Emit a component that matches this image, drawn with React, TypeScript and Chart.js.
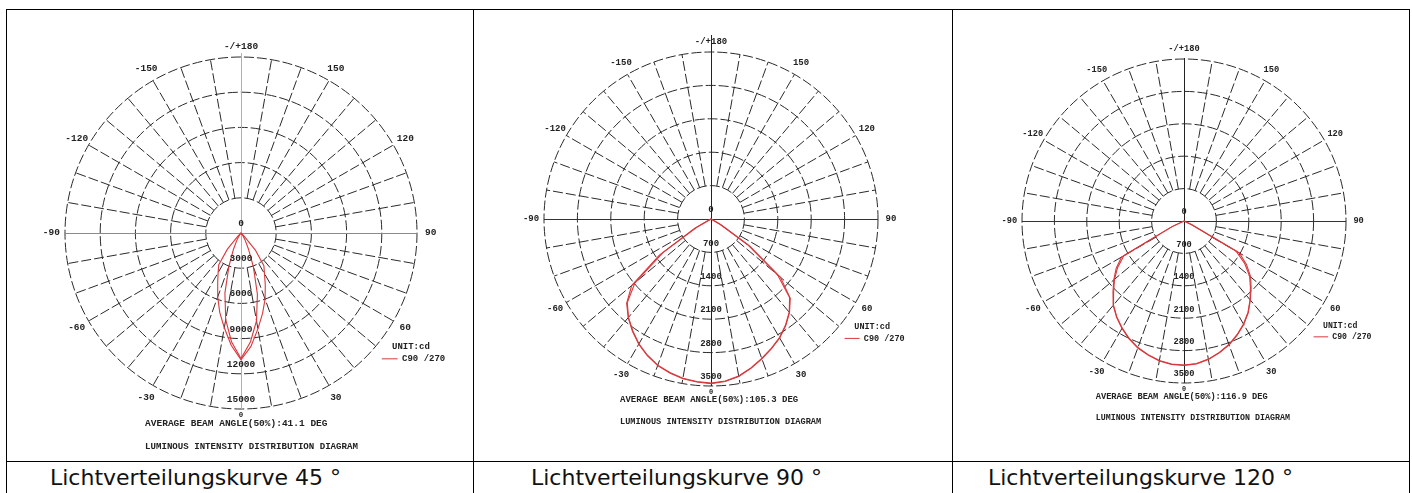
import React, { useEffect, useRef } from 'react';
import { Chart, registerables } from 'chart.js';

Chart.register(...registerables);

// polar angles (degrees) of each half, 0 = straight down, 180 = straight up
const ANGLES = [0, 5, 10, 15, 20, 25, 30, 35, 40, 45, 50, 55, 60, 65, 70, 75, 80, 85, 90,
  95, 100, 105, 110, 115, 120, 125, 130, 135, 140, 145, 150, 155, 160, 165, 170, 175, 180];

// angle tick labels around the rim
const ANGLE_TICKS = [180, 150, 120, 90, 60, 30, 0, -30, -60, -90, -120, -150];
const ANGLE_TEXT = ['-/+180', '150', '120', '90', '60', '30', '0', '-30', '-60', '-90', '-120', '-150'];

// ---- Chart 1 : 45° (cd) ----
const C1_TICKS = [0, 3000, 6000, 9000, 12000, 15000];
const C1_A_RIGHT = [10800, 9700, 8300, 7100, 6000, 4900, 4000, 3400, 1900, 400,
  0, 0, 0, 0, 0, 0, 0, 0, 0, 0,
  0, 0, 0, 0, 0, 0, 0, 0, 0, 0,
  0, 0, 0, 0, 0, 0, 0];
const C1_A_LEFT = [10800, 9600, 8200, 7000, 5800, 4700, 3900, 3300, 1800, 400,
  0, 0, 0, 0, 0, 0, 0, 0, 0, 0,
  0, 0, 0, 0, 0, 0, 0, 0, 0, 0,
  0, 0, 0, 0, 0, 0, 0];
const C1_B_RIGHT = [10700, 9300, 7600, 5400, 3100, 1500, 700, 300, 0, 0,
  0, 0, 0, 0, 0, 0, 0, 0, 0, 0,
  0, 0, 0, 0, 0, 0, 0, 0, 0, 0,
  0, 0, 0, 0, 0, 0, 0];
const C1_B_LEFT = [10700, 9300, 7500, 5300, 3000, 1500, 700, 300, 0, 0,
  0, 0, 0, 0, 0, 0, 0, 0, 0, 0,
  0, 0, 0, 0, 0, 0, 0, 0, 0, 0,
  0, 0, 0, 0, 0, 0, 0];

// ---- Chart 2 : 90° (cd) ----
const C2_TICKS = [0, 700, 1400, 2100, 2800, 3500];
const C2_A_RIGHT = [3450, 3420, 3350, 3240, 3120, 3000, 2880, 2730, 2560, 2350,
  1900, 1000, 250, 0, 0, 0, 0, 0, 0, 0,
  0, 0, 0, 0, 0, 0, 0, 0, 0, 0,
  0, 0, 0, 0, 0, 0, 0];
const C2_A_LEFT = [3450, 3430, 3400, 3340, 3270, 3160, 3030, 2870, 2700, 2500,
  2170, 1320, 400, 0, 0, 0, 0, 0, 0, 0,
  0, 0, 0, 0, 0, 0, 0, 0, 0, 0,
  0, 0, 0, 0, 0, 0, 0];
const C2_B_RIGHT = [3440, 3410, 3340, 3230, 3110, 2990, 2870, 2720, 2550, 2330,
  1820, 930, 200, 0, 0, 0, 0, 0, 0, 0,
  0, 0, 0, 0, 0, 0, 0, 0, 0, 0,
  0, 0, 0, 0, 0, 0, 0];
const C2_B_LEFT = [3440, 3420, 3390, 3330, 3260, 3150, 3020, 2860, 2690, 2480,
  2080, 1230, 330, 0, 0, 0, 0, 0, 0, 0,
  0, 0, 0, 0, 0, 0, 0, 0, 0, 0,
  0, 0, 0, 0, 0, 0, 0];

// ---- Chart 3 : 120° (cd) ----
const C3_TICKS = [0, 700, 1400, 2100, 2800, 3500];
const C3_A_RIGHT = [3120, 3100, 3040, 2950, 2850, 2720, 2580, 2420, 2230, 2050,
  1880, 1650, 1380, 200, 0, 0, 0, 0, 0, 0,
  0, 0, 0, 0, 0, 0, 0, 0, 0, 0,
  0, 0, 0, 0, 0, 0, 0];
const C3_A_LEFT = [3120, 3110, 3070, 3000, 2920, 2810, 2680, 2540, 2380, 2170,
  1980, 1790, 1560, 300, 0, 0, 0, 0, 0, 0,
  0, 0, 0, 0, 0, 0, 0, 0, 0, 0,
  0, 0, 0, 0, 0, 0, 0];
const C3_B_RIGHT = [3110, 3090, 3030, 2940, 2840, 2710, 2570, 2410, 2220, 2030,
  1850, 1600, 1300, 150, 0, 0, 0, 0, 0, 0,
  0, 0, 0, 0, 0, 0, 0, 0, 0, 0,
  0, 0, 0, 0, 0, 0, 0];
const C3_B_LEFT = [3110, 3100, 3060, 2990, 2910, 2800, 2670, 2530, 2370, 2150,
  1960, 1750, 1500, 250, 0, 0, 0, 0, 0, 0,
  0, 0, 0, 0, 0, 0, 0, 0, 0, 0,
  0, 0, 0, 0, 0, 0, 0];

const CAPTIONS = ['Lichtverteilungskurve 45 °', 'Lichtverteilungskurve 90 °', 'Lichtverteilungskurve 120 °'];
const BEAM_TEXT = [
  'AVERAGE BEAM ANGLE(50%):41.1 DEG',
  'AVERAGE BEAM ANGLE(50%):105.3 DEG',
  'AVERAGE BEAM ANGLE(50%):116.9 DEG',
];
const DIAGRAM_TEXT = 'LUMINOUS INTENSITY DISTRIBUTION DIAGRAM';
const UNIT_TEXT = 'UNIT:cd';
const SERIES_NAME = 'C90 /270';

// radar labels run clockwise from the top: 180 ... 0 ... -175
function buildLabels(): number[] {
  const out: number[] = [];
  for (let i = ANGLES.length - 1; i >= 0; i--) out.push(ANGLES[i]);
  for (let j = 1; j < ANGLES.length - 1; j++) out.push(-ANGLES[j]);
  return out;
}
function buildData(right: number[], left: number[]): number[] {
  const out: number[] = [];
  for (let i = ANGLES.length - 1; i >= 0; i--) out.push(right[i]);
  for (let j = 1; j < ANGLES.length - 1; j++) out.push(left[j]);
  return out;
}

const MONO = '"Liberation Mono", "DejaVu Sans Mono", monospace';
const RED = '#d8383c';

const decorPlugin = {
  id: 'decor',
  beforeDatasetsDraw(chart: any, _args: any, o: any) {
    const s = chart.scales.r;
    const ctx = chart.ctx;
    const R = s.drawingArea;
    const cx = s.xCenter;
    const cy = s.yCenter;
    const labels = chart.data.labels as number[];
    const rin = s.getDistanceFromCenterForValue(o.ticks[1]);
    ctx.save();
    ctx.strokeStyle = o.gridColor;
    ctx.lineWidth = 1;
    ctx.setLineDash([10, 3]);
    labels.forEach((a, i) => {
      if (a % 10 !== 0 || a % 90 === 0) return;
      const p1 = s.getPointPosition(i, rin);
      const p2 = s.getPointPosition(i, R);
      ctx.beginPath();
      ctx.moveTo(p1.x, p1.y);
      ctx.lineTo(p2.x, p2.y);
      ctx.stroke();
    });
    ctx.setLineDash([]);
    ctx.strokeStyle = o.hAxisColor;
    ctx.beginPath();
    ctx.moveTo(cx - R, cy + 0.5);
    ctx.lineTo(cx + R, cy + 0.5);
    ctx.stroke();
    ctx.strokeStyle = o.vAxisColor;
    ctx.beginPath();
    ctx.moveTo(cx + 0.5, cy - R - o.vTopExt);
    ctx.lineTo(cx + 0.5, cy + R);
    ctx.stroke();
    ctx.restore();
  },
  afterDatasetsDraw(chart: any, _args: any, o: any) {
    const s = chart.scales.r;
    const ctx = chart.ctx;
    const R = s.drawingArea;
    const cx = s.xCenter;
    const cy = s.yCenter;
    const k = R / 167;
    const labels = chart.data.labels as number[];
    const fs = 9 * k;
    ctx.save();
    ctx.fillStyle = '#222';
    ctx.textAlign = 'center';
    ctx.textBaseline = 'middle';
    ctx.font = `bold ${fs.toFixed(1)}px ${MONO}`;
    // ring values
    (o.ticks as number[]).forEach((v) => {
      const d = s.getDistanceFromCenterForValue(v);
      ctx.fillText(String(v), cx, cy + d - 9 * k);
    });
    // angle labels
    ANGLE_TICKS.forEach((a, i) => {
      const idx = labels.indexOf(a);
      let off = 13 * k;
      if (a === 180) off = 10 * k;
      if (a === 0) {
        off = 6 * k;
        ctx.font = `bold ${(7 * k).toFixed(1)}px ${MONO}`;
      } else {
        ctx.font = `bold ${fs.toFixed(1)}px ${MONO}`;
      }
      const p = s.getPointPosition(idx, R + off);
      ctx.fillText(ANGLE_TEXT[i], p.x, p.y);
    });
    // legend
    ctx.font = `bold ${(8.5 * k).toFixed(1)}px ${MONO}`;
    ctx.textAlign = 'left';
    ctx.fillText(UNIT_TEXT, cx + 0.858 * R, cy + 0.646 * R);
    ctx.fillText(SERIES_NAME, cx + 0.915 * R, cy + 0.715 * R);
    ctx.strokeStyle = RED;
    ctx.lineWidth = 1;
    ctx.beginPath();
    ctx.moveTo(cx + 0.8 * R, cy + 0.715 * R);
    ctx.lineTo(cx + 0.89 * R, cy + 0.715 * R);
    ctx.stroke();
    // bottom texts
    ctx.font = `bold ${fs.toFixed(1)}px ${MONO}`;
    ctx.fillText(o.beam, cx - 0.545 * R, cy + 1.085 * R);
    ctx.font = `bold ${(8.6 * k).toFixed(1)}px ${MONO}`;
    ctx.fillText(DIAGRAM_TEXT, cx - 0.545 * R, cy + 1.215 * R);
    ctx.restore();
  },
};

type CellProps = {
  left: number; top: number; width: number; height: number;
  pad: { left: number; right: number; top: number; bottom: number };
  ticks: number[];
  a: number[]; b: number[];
  beam: string;
  hAxisColor: string; vAxisColor: string; vTopExt: number;
};

function PolarCell(p: CellProps) {
  const ref = useRef<HTMLCanvasElement | null>(null);
  useEffect(() => {
    if (!ref.current) return;
    const step = p.ticks[1] - p.ticks[0];
    const chart = new Chart(ref.current, {
      type: 'radar',
      data: {
        labels: buildLabels(),
        datasets: [
          { data: p.a, borderColor: RED, borderWidth: 1.1, pointRadius: 0, fill: false, tension: 0 },
          { data: p.b, borderColor: RED, borderWidth: 1.1, pointRadius: 0, fill: false, tension: 0 },
        ],
      },
      options: {
        responsive: false,
        animation: false,
        devicePixelRatio: 1,
        layout: { padding: p.pad },
        plugins: {
          legend: { display: false },
          tooltip: { enabled: false },
          decor: {
            ticks: p.ticks, gridColor: '#2a2a2a', beam: p.beam,
            hAxisColor: p.hAxisColor, vAxisColor: p.vAxisColor, vTopExt: p.vTopExt,
          },
        } as any,
        scales: {
          r: {
            min: p.ticks[0],
            max: p.ticks[p.ticks.length - 1],
            startAngle: 0,
            ticks: { stepSize: step, display: false },
            grid: { circular: true, color: '#2a2a2a', lineWidth: 1 },
            border: { dash: [10, 3] } as any,
            angleLines: { display: false },
            pointLabels: { display: false },
          },
        },
      },
      plugins: [decorPlugin as any],
    });
    return () => chart.destroy();
  }, []);
  return (
    <canvas
      ref={ref}
      width={p.width}
      height={p.height}
      style={{ position: 'absolute', left: p.left, top: p.top, width: p.width, height: p.height }}
    />
  );
}

const lineStyle = (l: number, t: number, w: number, h: number): React.CSSProperties => ({
  position: 'absolute', left: l, top: t, width: w, height: h, background: '#000',
});

export default function App() {
  const capStyle = (left: number): React.CSSProperties => ({
    position: 'absolute', left, top: 465, fontFamily: '"DejaVu Sans", Verdana, sans-serif',
    fontSize: 22, lineHeight: '26px', color: '#111', whiteSpace: 'nowrap',
  });
  return (
    <div style={{ position: 'absolute', left: 0, top: 0, width: 1412, height: 493, background: '#fff', overflow: 'hidden' }}>
      <PolarCell left={7} top={10} width={466} height={451}
        pad={{ left: 58, right: 56, top: 47, bottom: 52 }}
        ticks={C1_TICKS} a={buildData(C1_A_RIGHT, C1_A_LEFT)} b={buildData(C1_B_RIGHT, C1_B_LEFT)}
        beam={BEAM_TEXT[0]} hAxisColor="#8a8a8a" vAxisColor="#b0b0b0" vTopExt={4} />
      <PolarCell left={474} top={10} width={478} height={451}
        pad={{ left: 70, right: 74, top: 42, bottom: 75 }}
        ticks={C2_TICKS} a={buildData(C2_A_RIGHT, C2_A_LEFT)} b={buildData(C2_B_RIGHT, C2_B_LEFT)}
        beam={BEAM_TEXT[1]} hAxisColor="#333" vAxisColor="#222" vTopExt={17} />
      <PolarCell left={953} top={10} width={456} height={451}
        pad={{ left: 69, right: 63, top: 49, bottom: 78 }}
        ticks={C3_TICKS} a={buildData(C3_A_RIGHT, C3_A_LEFT)} b={buildData(C3_B_RIGHT, C3_B_LEFT)}
        beam={BEAM_TEXT[2]} hAxisColor="#333" vAxisColor="#222" vTopExt={1} />

      <div style={lineStyle(6, 9, 1404, 1)} />
      <div style={lineStyle(6, 461, 1404, 1)} />
      <div style={lineStyle(6, 9, 1, 484)} />
      <div style={lineStyle(473, 9, 1, 484)} />
      <div style={lineStyle(952, 9, 1, 484)} />
      <div style={lineStyle(1409, 9, 1, 484)} />

      <div style={capStyle(50)}>{CAPTIONS[0]}</div>
      <div style={capStyle(531)}>{CAPTIONS[1]}</div>
      <div style={capStyle(988)}>{CAPTIONS[2]}</div>
    </div>
  );
}
